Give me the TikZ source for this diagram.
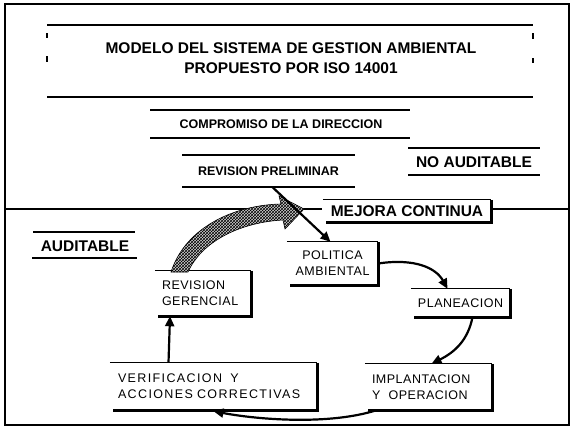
\documentclass[tikz,border=0pt]{standalone}
\usepackage{fontspec}
\setmainfont{Liberation Sans}
\usetikzlibrary{arrows.meta,patterns}
\begin{document}
\begin{tikzpicture}[x=1pt,y=-1pt,
  rule/.style={line width=1.2pt},
  shade/.style={line width=3pt},
  flow/.style={line width=2.2pt,-{Triangle[length=10pt,width=9pt]}},
  bigt/.style={font=\fontsize{15.5}{20}\selectfont\bfseries, inner sep=0pt, align=center},
  midt/.style={font=\fontsize{12.5}{15}\selectfont\bfseries, inner sep=0pt},
  boxt/.style={font=\fontsize{12.5}{16}\selectfont\addfontfeature{LetterSpace=4}, inner sep=0pt},
  widet/.style={font=\fontsize{12.5}{16}\selectfont\addfontfeature{LetterSpace=11}, inner sep=0pt},
  stage/.style={inner sep=0pt, draw=none}
]
\useasboundingbox (0,0) rectangle (576,434);
\fill[white] (0,0) rectangle (576,434);
\draw[line width=1.6pt] (5,4) rectangle (569,425);

% title block
\node[bigt] (title) at (291,58) {MODELO DEL SISTEMA DE GESTION AMBIENTAL\\PROPUESTO POR ISO 14001};
\draw[rule] (47,25) -- (533,25);
\draw[rule] (47,97) -- (533,97);
\draw[rule] (47,33) -- (47,38) (47,56) -- (47,62) (533,33) -- (533,39) (533,58) -- (533,63);

% compromiso
\node[midt] (comp) at (281,124) {COMPROMISO DE LA DIRECCION};
\draw[rule] (150,110) -- (410,110);
\draw[rule] (150,138) -- (410,138);

% revision preliminar
\node[midt, minimum width=173pt, minimum height=32pt] (prel) at (268.5,171) {REVISION PRELIMINAR};
\draw[rule] (182,155) -- (355,155);
\draw[rule] (182,187) -- (355,187);

% no auditable
\node[bigt] (noaud) at (474,162) {NO AUDITABLE};
\draw[rule] (408,148) -- (540,148);
\draw[rule] (408,175) -- (540,175);

% auditable
\node[bigt] (aud) at (85,246) {AUDITABLE};
\draw[rule] (33,232) -- (135,232);
\draw[rule] (32,258) -- (137,258);

% divider
\draw[rule] (5,209) -- (322,209);
\draw[rule] (490,209) -- (569,209);

% mejora continua
\node[stage, minimum width=168pt, minimum height=22pt, font=\fontsize{15.5}{18}\selectfont\bfseries] (mej) at (407,211) {MEJORA CONTINUA};
\draw[rule] (mej.north west) -- (mej.north east);
\draw[shade] (mej.north east) -- (mej.south east) -- ([xshift=3pt]mej.south west);

% boxes
\node[stage, minimum width=91pt, minimum height=43pt, boxt, align=center] (pol) at (332.5,263.5) {POLITICA\\AMBIENTAL};
\node[stage, minimum width=96pt, minimum height=45pt, boxt, align=left, text width=82pt] (ger) at (203,293.5) {REVISION\\GERENCIAL};
\node[stage, minimum width=99pt, minimum height=28pt, boxt] (plan) at (460.5,303) {PLANEACION};
\node[stage, minimum width=127pt, minimum height=46pt, boxt, align=left, text width=113pt] (impl) at (428.5,387) {IMPLANTACION\\Y\ \ OPERACION};
\node[stage, minimum width=207pt, minimum height=47pt, widet, align=left, text width=191pt] (ver) at (213.5,386.5) {VERIFICACION\ \ Y\\ACCIONES CORRECTIVAS};

\foreach \b in {pol,ger,plan,impl,ver}{
  \draw[rule] (\b.north west) -- (\b.north east);
  \draw[shade] (\b.north east) -- (\b.south east) -- ([xshift=3pt]\b.south west);
}

% hatched arrow (mejora continua loop)
\draw[line width=0.6pt, fill=gray!35, postaction={pattern=crosshatch}]
  (171,272) .. controls (186,226) and (236,205) .. (281,204) -- (279,196) -- (304,209) -- (285,229) -- (283,220)
  .. controls (244,222) and (203,239) .. (188,272) -- cycle;

% connectors
\draw[flow] ([xshift=4pt]prel.south) -- ([xshift=-2pt]pol.north);
\draw[flow] (pol.east) .. controls (415,258) and (436,268) .. ([xshift=-13pt]plan.north);
\draw[flow] ([xshift=12pt]plan.south) .. controls (468,340) and (455,352) .. ([xshift=3pt]impl.north);
\draw[flow] ([xshift=-52pt]impl.south) .. controls (330,425) and (260,420) .. ([yshift=-1pt]ver.south);
\draw[flow] ([xshift=-45pt]ver.north) -- ([xshift=-33pt]ger.south);
\end{tikzpicture}
\end{document}
